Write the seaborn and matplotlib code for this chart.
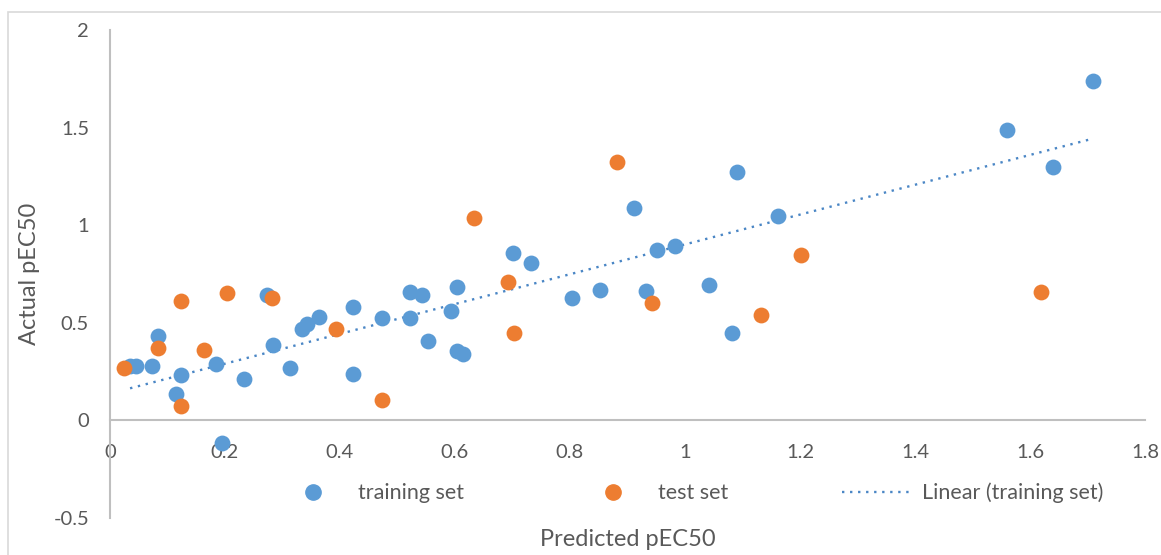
import matplotlib
matplotlib.use('Agg')
import matplotlib.pyplot as plt
from matplotlib.lines import Line2D
from matplotlib.patches import Rectangle
import numpy as np
import pandas as pd
import seaborn as sns

# Training set (predicted, actual)
train_pred = [0.035, 0.045, 0.073, 0.084, 0.124, 0.115, 0.184, 0.233, 0.195,
              0.273, 0.283, 0.313, 0.334, 0.343, 0.363, 0.423, 0.423, 0.473,
              0.522, 0.543, 0.522, 0.553, 0.603, 0.593, 0.603, 0.614, 0.701,
              0.732, 0.803, 0.852, 0.911, 0.932, 0.951, 0.983, 1.042, 1.090,
              1.082, 1.162, 1.560, 1.640, 1.710]
train_actual = [0.28, 0.28, 0.28, 0.43, 0.235, 0.135, 0.287, 0.21, -0.118,
                0.64, 0.385, 0.267, 0.467, 0.492, 0.53, 0.58, 0.236, 0.523,
                0.656, 0.641, 0.523, 0.405, 0.683, 0.56, 0.354, 0.34, 0.856,
                0.805, 0.626, 0.667, 1.09, 0.662, 0.872, 0.892, 0.692, 1.27,
                0.446, 1.046, 1.49, 1.297, 1.74]

# Test set (predicted, actual)
test_pred = [0.024, 0.084, 0.124, 0.124, 0.163, 0.203, 0.282, 0.393, 0.473,
             0.633, 0.692, 0.703, 0.882, 0.943, 1.132, 1.202, 1.620]
test_actual = [0.266, 0.37, 0.61, 0.072, 0.359, 0.652, 0.625, 0.467, 0.103,
               1.036, 0.708, 0.446, 1.323, 0.60, 0.538, 0.846, 0.656]

x_ticks = [0, 0.2, 0.4, 0.6, 0.8, 1, 1.2, 1.4, 1.6, 1.8]
x_labels = ['0', '0.2', '0.4', '0.6', '0.8', '1', '1.2', '1.4', '1.6', '1.8']
y_ticks = [-0.5, 0, 0.5, 1, 1.5, 2]
y_labels = ['-0.5', '0', '0.5', '1', '1.5', '2']

blue = '#5B9BD5'
orange = '#ED7D31'
grey = '#595959'
trend_style = (0, (1, 2.4))

sns.set_style('white')
plt.rcParams['font.family'] = ['Lato', 'DejaVu Sans']

train = pd.DataFrame({'pred': train_pred, 'actual': train_actual})
test = pd.DataFrame({'pred': test_pred, 'actual': test_actual})

fig = plt.figure(figsize=(11.61, 5.55), dpi=100)
ax = fig.add_axes([0.0947, 0.0667, 0.8915, 0.8793])

# chart border
fig.patches.append(Rectangle((8 / 1161, -0.1), 1.2, 1 - 12 / 555 + 0.1,
                             transform=fig.transFigure, fill=False,
                             edgecolor='#d9d9d9', linewidth=1.2))

sns.regplot(data=train, x='pred', y='actual', ax=ax, scatter=False, ci=None,
            line_kws={'color': '#4a86c5', 'linewidth': 1.7,
                      'linestyle': trend_style, 'zorder': 1})
sns.scatterplot(data=train, x='pred', y='actual', ax=ax, color=blue, s=130,
                linewidth=0, zorder=2)
sns.scatterplot(data=test, x='pred', y='actual', ax=ax, color=orange, s=130,
                linewidth=0, zorder=3)

ax.set_xlim(0, 1.8)
ax.set_ylim(-0.5, 2)
ax.set_xticks(x_ticks, x_labels)
ax.set_yticks(y_ticks, y_labels)
ax.tick_params(axis='both', length=0, labelsize=14.5, labelcolor=grey)
ax.tick_params(axis='x', pad=17)
ax.tick_params(axis='y', pad=15)

for side in ['top', 'right']:
    ax.spines[side].set_visible(False)
ax.spines['bottom'].set_position(('data', 0))
for side in ['bottom', 'left']:
    ax.spines[side].set_color('#bfbfbf')
    ax.spines[side].set_linewidth(1.5)

ax.set_xlabel('Predicted pEC50', fontsize=17, color=grey)
ax.set_ylabel('Actual pEC50', fontsize=17, color=grey)
ax.xaxis.set_label_coords(0.5, -0.022)
ax.yaxis.set_label_coords(-0.068, 0.5)

handles = [
    Line2D([], [], marker='o', linestyle='none', color=blue, markersize=11),
    Line2D([], [], marker='o', linestyle='none', color=orange, markersize=11),
    Line2D([], [], color='#4a86c5', linewidth=1.7, linestyle=trend_style),
]
labels = ['training set', 'test set', 'Linear (training set)']
fig.legend(handles, labels, loc='center', ncol=3, frameon=False,
           bbox_to_anchor=(0.595, 0.112), fontsize=15.5, labelcolor=grey,
           columnspacing=5.3, handlelength=3.25, handletextpad=0.45)

fig.savefig('out.png', dpi=100)
